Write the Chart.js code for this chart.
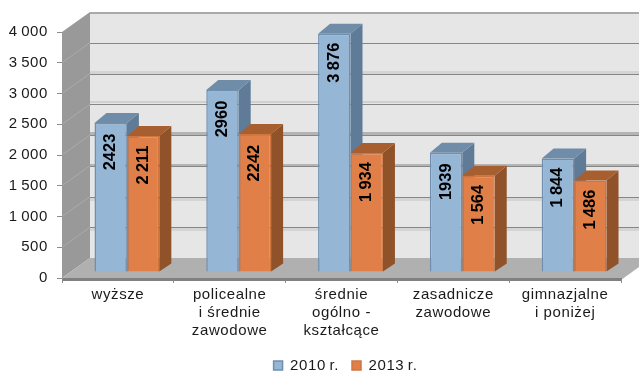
<!DOCTYPE html>
<html>
<head>
<meta charset="utf-8">
<style>
  html, body { margin: 0; padding: 0; background: #fff; }
  canvas { display: block; }
</style>
<script src="https://cdn.jsdelivr.net/npm/chart.js@4"></script>
</head>
<body>
<canvas id="mycanvas" width="639" height="373"></canvas>
<script>
var categories = [
  'wyższe',
  ['policealne', 'i średnie', 'zawodowe'],
  ['średnie', 'ogólno -', 'kształcące'],
  ['zasadnicze', 'zawodowe'],
  ['gimnazjalne', 'i poniżej']
];
var values2010 = [2423, 2960, 3876, 1939, 1844];
var values2013 = [2211, 2242, 1934, 1564, 1486];
var labels2010 = ['2423', '2960', '3\u2009876', '1939', '1\u2009844'];
var labels2013 = ['2\u2009211', '2242', '1\u2009934', '1\u2009564', '1\u2009486'];
var tickValues = [0, 500, 1000, 1500, 2000, 2500, 3000, 3500, 4000];
var tickLabels = ['0', '500', '1\u2009000', '1\u2009500', '2\u2009000', '2\u2009500', '3\u2009000', '3\u2009500', '4\u2009000'];

// extra shading next to some wall gridlines, by tick index: [offset, height, colour]
var gridBands = {
  1: [1, 3, '#d4d4d4'],
  2: [1, 3, '#d4d4d4'],
  3: [-2, 3, '#b4b4b4'],
  4: [-3, 3, '#b4b4b4'],
  5: [-3, 2, '#d0d0d0'],
  6: [-3, 3, '#d4d4d4']
};

var wallDx = 28, wallDy = -20;
var barShiftX = 9, barShiftY = -6;
var depthX = 12, depthTop = -10, depthBottom = -8;

var sideColors = ['#5f7b97', '#8f5229'];
var topColors = ['#6f8ca8', '#a85f30'];
var textSpacing = '0.6px';

function poly(ctx, pts, color) {
  ctx.fillStyle = color;
  ctx.beginPath();
  ctx.moveTo(pts[0][0], pts[0][1]);
  for (var i = 1; i < pts.length; i++) ctx.lineTo(pts[i][0], pts[i][1]);
  ctx.closePath();
  ctx.fill();
}

var scene = {
  id: 'scene',
  beforeLayout: function(chart) {
    chart.ctx.letterSpacing = textSpacing;
  },
  afterLayout: function(chart) {
    // legend sits lower and further right than the library would centre it
    chart.legend.left += 35;
    chart.legend.right += 35;
    chart.legend.top += 10;
    chart.legend.bottom += 10;
    // the axis clips its labels to its own box
    chart.scales.x.bottom = chart.height;
  },
  beforeDraw: function(chart) {
    var ctx = chart.ctx, a = chart.chartArea, y = chart.scales.y;
    ctx.letterSpacing = textSpacing;
    var backLeft = a.left + wallDx, canvasRight = chart.width;
    var y0 = y.getPixelForValue(0), yTop = y.getPixelForValue(4000);

    // back wall
    ctx.fillStyle = '#e6e6e6';
    ctx.fillRect(backLeft, yTop + wallDy, canvasRight - backLeft, y0 - yTop);
    // left wall
    poly(ctx, [[a.left, yTop], [backLeft, yTop + wallDy], [backLeft, y0 + wallDy], [a.left, y0]], '#999999');

    for (var i = 0; i < tickValues.length; i++) {
      var py = y.getPixelForValue(tickValues[i]);
      var by = Math.round(py + wallDy);
      var band = gridBands[i];
      if (band) {
        ctx.fillStyle = band[2];
        ctx.fillRect(backLeft, by + band[0], canvasRight - backLeft, band[1]);
      }
      if (i > 0 && i < tickValues.length - 1) {
        ctx.fillStyle = '#868686';
        ctx.fillRect(backLeft, by, canvasRight - backLeft, 1);
        ctx.strokeStyle = '#ababab';
        ctx.lineWidth = 1;
        ctx.beginPath();
        ctx.moveTo(a.left, py);
        ctx.lineTo(backLeft, py + wallDy);
        ctx.stroke();
      }
    }
    // top edge of the wall
    ctx.fillStyle = '#aaaaaa';
    ctx.fillRect(backLeft, yTop + wallDy, canvasRight - backLeft, 2);

    // floor
    poly(ctx, [[backLeft, y0 + wallDy], [canvasRight, y0 + wallDy], [canvasRight, y0 - 11], [a.right, y0 + 2], [a.left, y0 + 2], [a.left, y0]], '#b0b0b0');
    ctx.fillStyle = '#808080';
    ctx.fillRect(a.left, y0, a.right - a.left, 3);
  },
  // side and top faces go down first, the library then paints the fronts over them
  beforeDatasetsDraw: function(chart) {
    var ctx = chart.ctx;
    ctx.save();
    ctx.translate(barShiftX, barShiftY);
    for (var d = 0; d < 2; d++) {
      var bars = chart.getDatasetMeta(d).data;
      for (var i = 0; i < bars.length; i++) {
        var p = bars[i].getProps(['x', 'y', 'base', 'width']);
        var l = p.x - p.width / 2, r = p.x + p.width / 2;
        poly(ctx, [[r, p.y], [r + depthX, p.y + depthTop], [r + depthX, p.base + depthBottom], [r, p.base]], sideColors[d]);
        poly(ctx, [[l, p.y], [l + depthX, p.y + depthTop], [r + depthX, p.y + depthTop], [r, p.y]], topColors[d]);
      }
    }
    ctx.restore();
  },
  beforeDatasetDraw: function(chart) {
    chart.ctx.save();
    chart.ctx.translate(barShiftX, barShiftY);
  },
  afterDatasetDraw: function(chart) {
    chart.ctx.restore();
  },
  afterDatasetsDraw: function(chart) {
    var ctx = chart.ctx;
    var sets = [labels2010, labels2013];
    ctx.save();
    ctx.letterSpacing = '0px';
    ctx.font = 'bold 16.5px "Liberation Sans"';
    ctx.fillStyle = '#000';
    ctx.textAlign = 'center';
    ctx.textBaseline = 'middle';
    for (var d = 0; d < sets.length; d++) {
      var bars = chart.getDatasetMeta(d).data;
      for (var i = 0; i < bars.length; i++) {
        ctx.save();
        ctx.translate(bars[i].x + barShiftX, bars[i].y + barShiftY + 29);
        ctx.rotate(-Math.PI / 2);
        ctx.fillText(sets[d][i], 0, 0);
        ctx.restore();
      }
    }
    ctx.restore();
  }
};

var chartdata = {
  labels: categories,
  datasets: [
    {
      label: '2010\u2009r.',
      data: values2010,
      backgroundColor: '#95b6d4',
      borderColor: '#6f8fae',
      borderWidth: 1.5
    },
    {
      label: '2013\u2009r.',
      data: values2013,
      backgroundColor: '#e07f48',
      borderColor: '#cf7540',
      borderWidth: 1.5
    }
  ]
};

var ctx = document.getElementById('mycanvas').getContext('2d');
var barGraph = new Chart(ctx, {
  type: 'bar',
  data: chartdata,
  plugins: [scene],
  options: {
    responsive: false,
    animation: false,
    categoryPercentage: 0.58,
    barPercentage: 1,
    layout: { padding: { top: 32, right: 18, left: 0, bottom: 0 } },
    font: { family: '"Liberation Sans"', size: 15 },
    plugins: {
      tooltip: { enabled: false },
      legend: {
        position: 'bottom',
        labels: {
          color: '#1a1a1a',
          boxWidth: 9,
          boxHeight: 9,
          padding: 13,
          font: { family: '"Liberation Sans"', size: 15 }
        }
      }
    },
    scales: {
      x: {
        afterFit: function(scale) { scale.height = 57; },
        border: { color: '#808080' },
        grid: { drawOnChartArea: false, tickColor: '#8c8c8c', tickLength: 5 },
        ticks: {
          color: '#1a1a1a',
          padding: 3,
          maxRotation: 0,
          autoSkip: false,
          font: { family: '"Liberation Sans"', size: 15 }
        }
      },
      y: {
        min: 0,
        max: 4000,
        afterFit: function(scale) { scale.width = 62; },
        afterBuildTicks: function(scale) {
          scale.ticks = tickValues.map(function(v) { return { value: v }; });
        },
        border: { color: '#999999' },
        grid: { drawOnChartArea: false, tickColor: '#8c8c8c', tickLength: 5 },
        ticks: {
          color: '#1a1a1a',
          padding: 9,
          font: { family: '"Liberation Sans"', size: 15 },
          callback: function(value, index) { return tickLabels[index]; }
        }
      }
    }
  }
});
</script>
</body>
</html>
